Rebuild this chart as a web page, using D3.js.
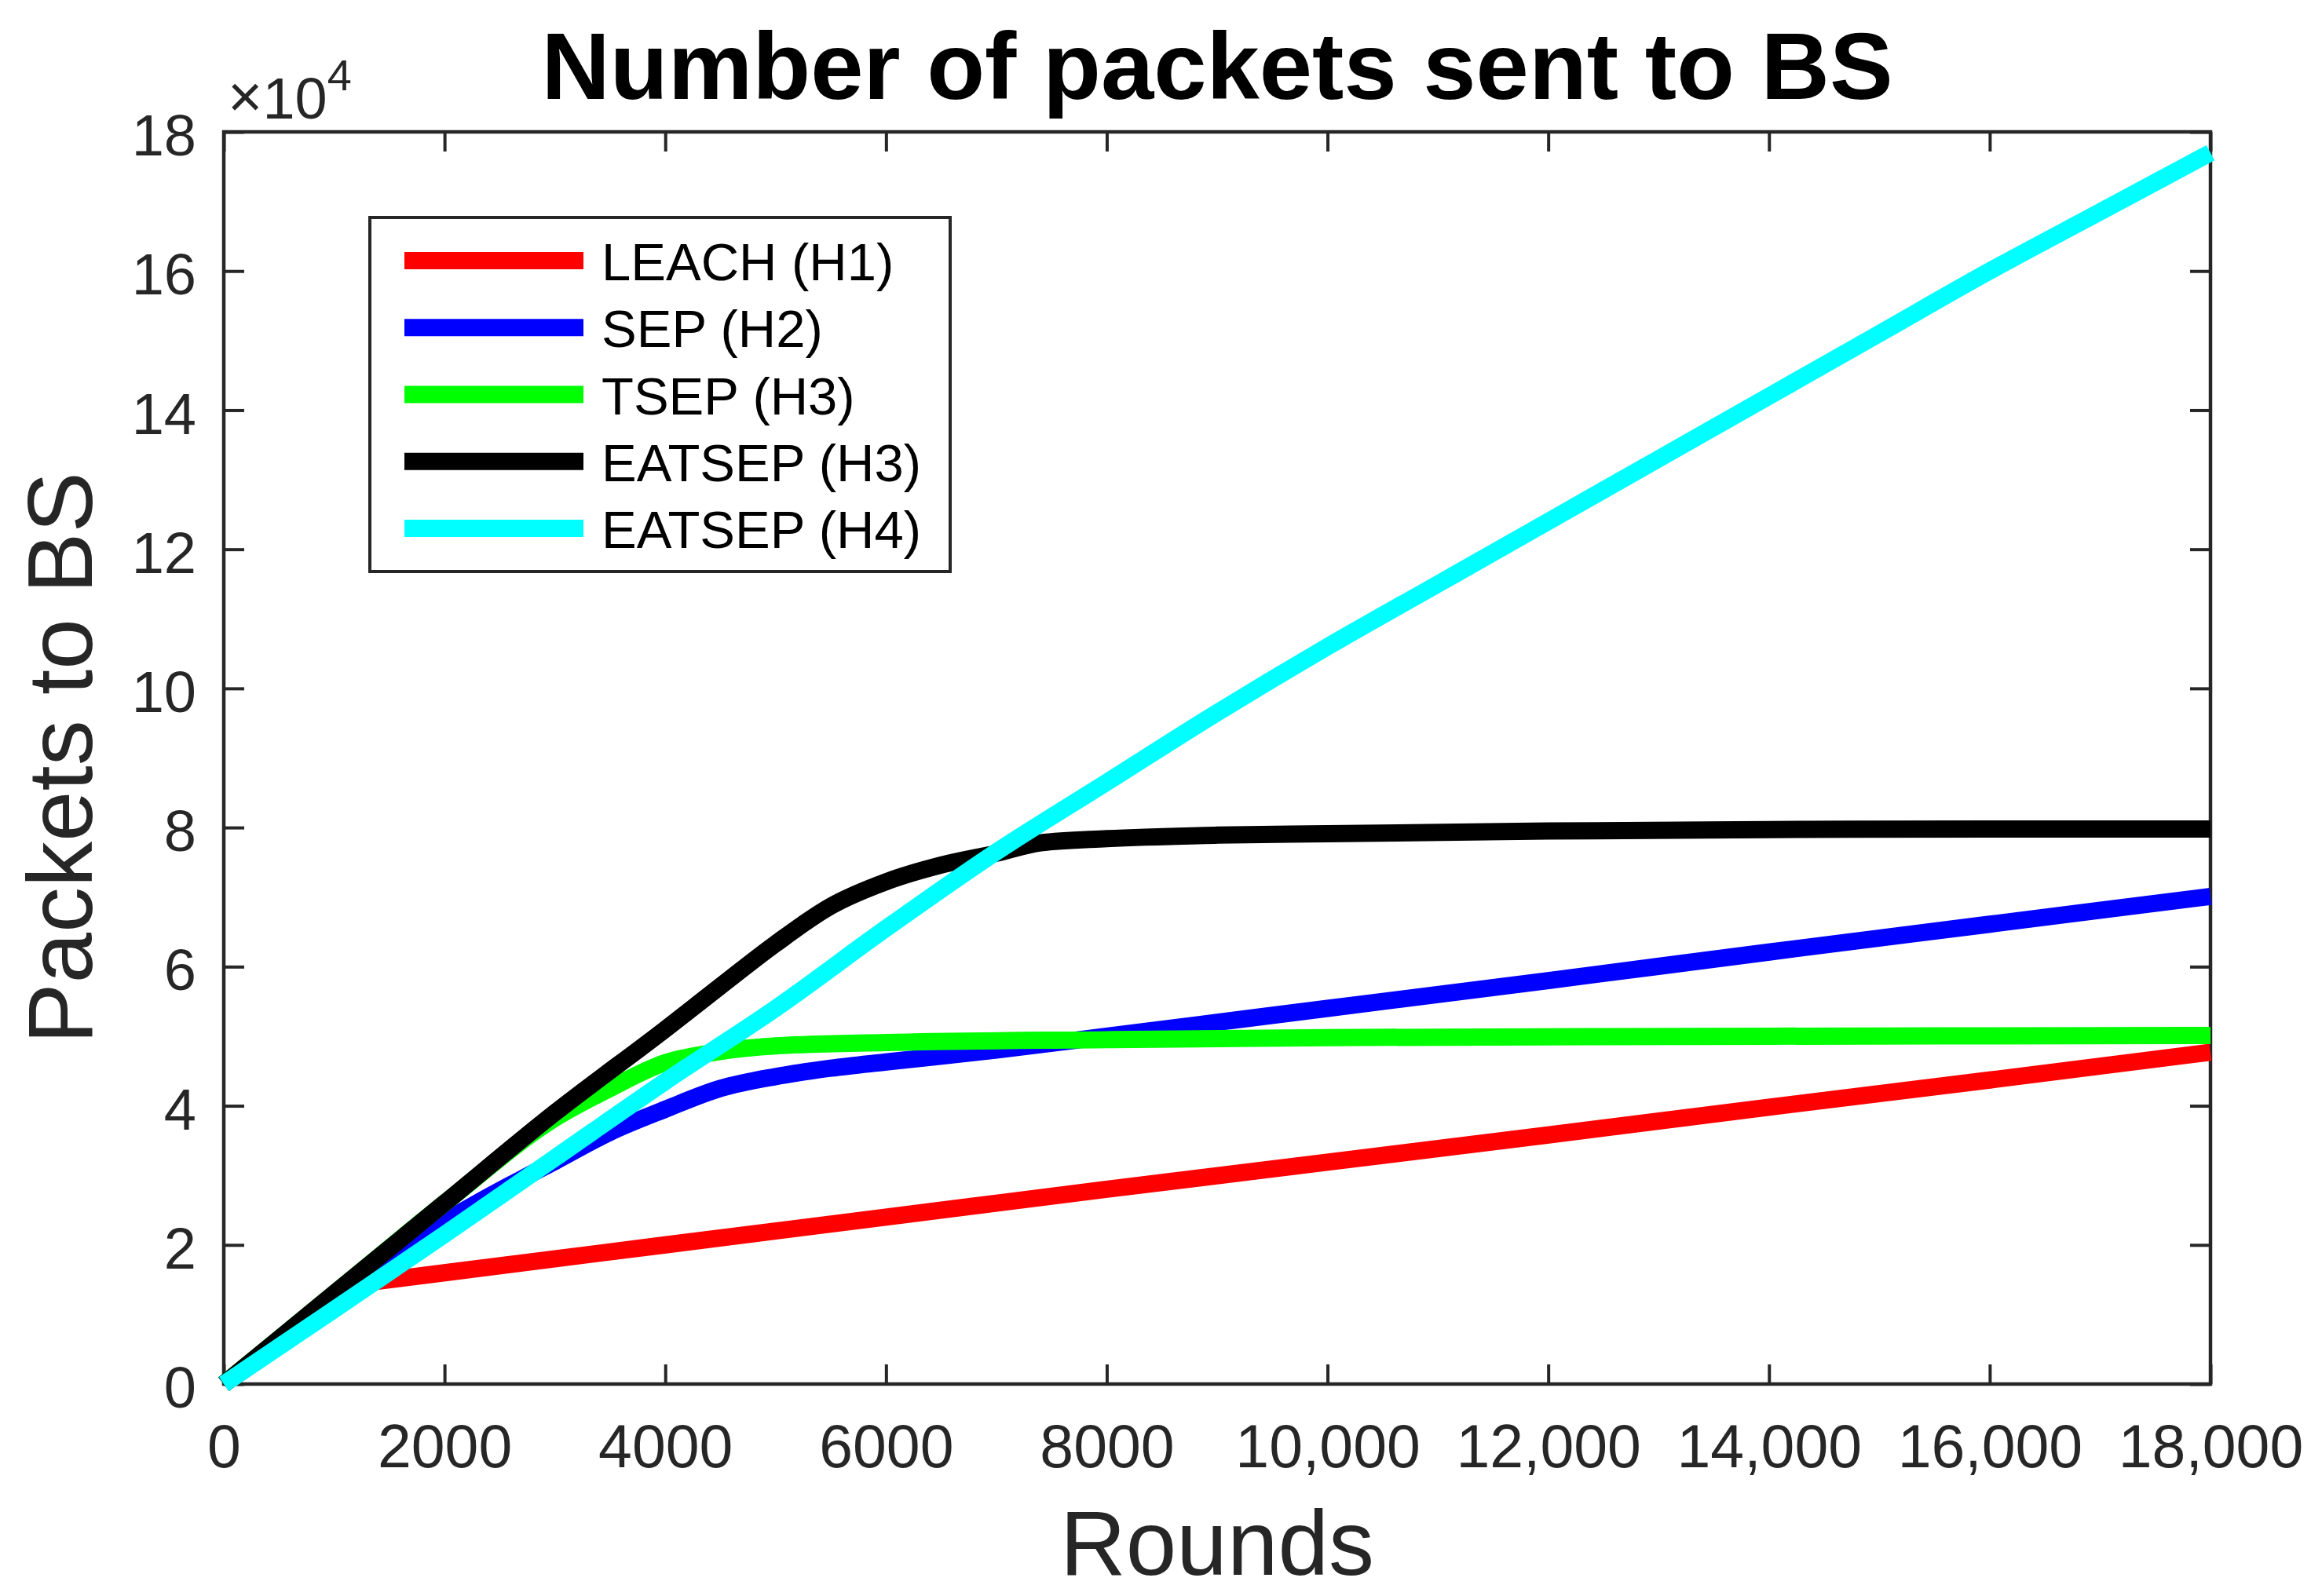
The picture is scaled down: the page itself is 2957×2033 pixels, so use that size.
<!DOCTYPE html>
<html><head><meta charset="utf-8">
<script src="https://cdn.jsdelivr.net/npm/d3@7"></script>
<style>body{margin:0;background:#fff} svg{display:block}</style>
</head><body>
<svg id="chart" width="2957" height="2033"></svg>
<script>
// ---- data ----
const seriesNames  = ["LEACH (H1)", "SEP (H2)", "TSEP (H3)", "EATSEP (H3)", "EATSEP (H4)"];
const seriesColors = ["#ff0000", "#0000ff", "#00ff00", "#000000", "#00ffff"];

const leachRounds = [0, 1350, 2000, 4000, 6000, 8000, 10000, 12000, 14000, 16000, 18000];
const leachValues = [0, 1.47, 1.60, 2.00, 2.40, 2.80, 3.19, 3.58, 3.98, 4.37, 4.77];

const sepRounds = [0, 1000, 2000, 2700, 3000, 3500, 4000, 4500, 5000, 5500, 6000, 7000, 8000, 10000, 12000, 14000, 16000, 18000];
const sepValues = [0, 1.20, 2.33, 2.95, 3.20, 3.62, 3.95, 4.25, 4.42, 4.54, 4.63, 4.80, 5.00, 5.40, 5.80, 6.21, 6.61, 7.01];

const tsepRounds = [0, 1000, 2000, 3000, 3500, 4000, 4500, 5000, 6000, 8000, 10000, 14000, 18000];
const tsepValues = [0, 1.30, 2.60, 3.82, 4.25, 4.62, 4.78, 4.86, 4.91, 4.95, 4.98, 5.00, 5.01];

const eatsepH3Rounds = [0, 1000, 2000, 3000, 4000, 4500, 5000, 5500, 6000, 6500, 7000, 7400, 8000, 9000, 10000, 12000, 14000, 16000, 18000];
const eatsepH3Values = [0, 1.30, 2.60, 3.90, 5.10, 5.72, 6.33, 6.87, 7.22, 7.46, 7.63, 7.78, 7.84, 7.89, 7.91, 7.95, 7.97, 7.98, 7.98];

const eatsepH4Rounds = [0, 1000, 2000, 3000, 4000, 5000, 6000, 7000, 8000, 9000, 10000, 11000, 12000, 13000, 14000, 15000, 16000, 17000, 18000];
const eatsepH4Values = [0, 1.07, 2.15, 3.25, 4.35, 5.40, 6.55, 7.65, 8.65, 9.65, 10.6, 11.5, 12.4, 13.3, 14.2, 15.1, 16.0, 16.85, 17.7];

const xTicks = [0, 2000, 4000, 6000, 8000, 10000, 12000, 14000, 16000, 18000];
const xTickLabels = ["0", "2000", "4000", "6000", "8000", "10,000", "12,000", "14,000", "16,000", "18,000"];
const yTicks = [0, 2, 4, 6, 8, 10, 12, 14, 16, 18];
const yTickLabels = ["0", "2", "4", "6", "8", "10", "12", "14", "16", "18"];

const titleText = "Number of packets sent to BS";
const xLabelText = "Rounds";
const yLabelText = "Packets to BS";

// ---- build ----
const seriesRounds = [leachRounds, sepRounds, tsepRounds, eatsepH3Rounds, eatsepH4Rounds];
const seriesValues = [leachValues, sepValues, tsepValues, eatsepH3Values, eatsepH4Values];
const series = seriesNames.map((name, i) => ({
  name, color: seriesColors[i],
  points: seriesRounds[i].map((r, j) => [r, seriesValues[i][j]]),
  curve: i === 0 ? d3.curveLinear : d3.curveMonotoneX
}));

const FONT = "'Liberation Sans', Arial, Helvetica, sans-serif";
const AX = "#262626";
const L = 285, R = 2815, T = 168, B = 1763;

const svg = d3.select("#chart");
svg.append("rect").attr("width", 2957).attr("height", 2033).attr("fill", "#fff");

const x = d3.scaleLinear().domain([0, 18000]).range([L, R]);
const y = d3.scaleLinear().domain([0, 18]).range([B, T]);

// axes
const gx = svg.append("g").attr("transform", `translate(0,${B})`)
  .call(d3.axisBottom(x).tickValues(xTicks).tickFormat((d, i) => xTickLabels[i])
    .tickSizeInner(-25).tickSizeOuter(0).tickPadding(51));
const gxTop = svg.append("g").attr("transform", `translate(0,${T})`)
  .call(d3.axisTop(x).tickValues(xTicks).tickFormat("").tickSizeInner(-25).tickSizeOuter(0));
const gy = svg.append("g").attr("transform", `translate(${L},0)`)
  .call(d3.axisLeft(y).tickValues(yTicks).tickFormat((d, i) => yTickLabels[i])
    .tickSizeInner(-26).tickSizeOuter(0).tickPadding(35));
const gyRight = svg.append("g").attr("transform", `translate(${R},0)`)
  .call(d3.axisRight(y).tickValues(yTicks).tickFormat("").tickSizeInner(-26).tickSizeOuter(0));

[gx, gxTop, gy, gyRight].forEach(g => {
  g.select(".domain").remove();
  g.selectAll(".tick line").attr("stroke", AX).attr("stroke-width", 4);
  g.selectAll(".tick text").attr("fill", AX).attr("font-family", FONT).attr("font-size", 74);
});
gx.selectAll(".tick text").attr("font-size", 77);
gy.selectAll(".tick text").attr("dy", "0.40em");

// box
svg.append("rect").attr("x", L).attr("y", T).attr("width", R - L).attr("height", B - T)
  .attr("fill", "none").attr("stroke", AX).attr("stroke-width", 4.5);

// lines
const line = d3.line().x(d => x(d[0])).y(d => y(d[1]));
svg.append("g").selectAll("path").data(series).join("path")
  .attr("d", s => line.curve(s.curve)(s.points))
  .attr("fill", "none").attr("stroke", s => s.color)
  .attr("stroke-width", 22).attr("stroke-linejoin", "round").attr("stroke-linecap", "butt");

// exponent label
const ex = svg.append("text").attr("x", 290).attr("y", 151)
  .attr("font-family", FONT).attr("fill", AX).attr("font-size", 74);
ex.append("tspan").attr("font-size", 76).attr("dy", -2).text("\u00d7");
ex.append("tspan").attr("dy", 2).text("10");
ex.append("tspan").attr("font-size", 56).attr("dy", -36).text("4");

// title
svg.append("text").attr("x", (L + R) / 2).attr("y", 126).attr("text-anchor", "middle")
  .attr("font-family", FONT).attr("font-weight", "bold").attr("font-size", 121).attr("fill", "#000")
  .text(titleText);

// axis labels
svg.append("text").attr("x", (L + R) / 2).attr("y", 2006).attr("text-anchor", "middle")
  .attr("font-family", FONT).attr("font-size", 116).attr("fill", AX).text(xLabelText);
svg.append("text").attr("transform", `translate(117,${(T + B) / 2}) rotate(-90)`).attr("text-anchor", "middle")
  .attr("font-family", FONT).attr("font-size", 116).attr("fill", AX).text(yLabelText);

// legend
const lg = svg.append("g");
lg.append("rect").attr("x", 471).attr("y", 277).attr("width", 739).attr("height", 451)
  .attr("fill", "#fff").attr("stroke", AX).attr("stroke-width", 4);
const rows = lg.selectAll("g.row").data(series).join("g").attr("class", "row")
  .attr("transform", (d, i) => `translate(0,${332 + i * 85.25})`);
rows.append("line").attr("x1", 515).attr("x2", 743).attr("y1", 0).attr("y2", 0)
  .attr("stroke", d => d.color).attr("stroke-width", 22);
rows.append("text").attr("x", 766).attr("y", 25).attr("font-family", FONT).attr("font-size", 67)
  .attr("fill", "#000").text(d => d.name);
</script>
</body></html>
